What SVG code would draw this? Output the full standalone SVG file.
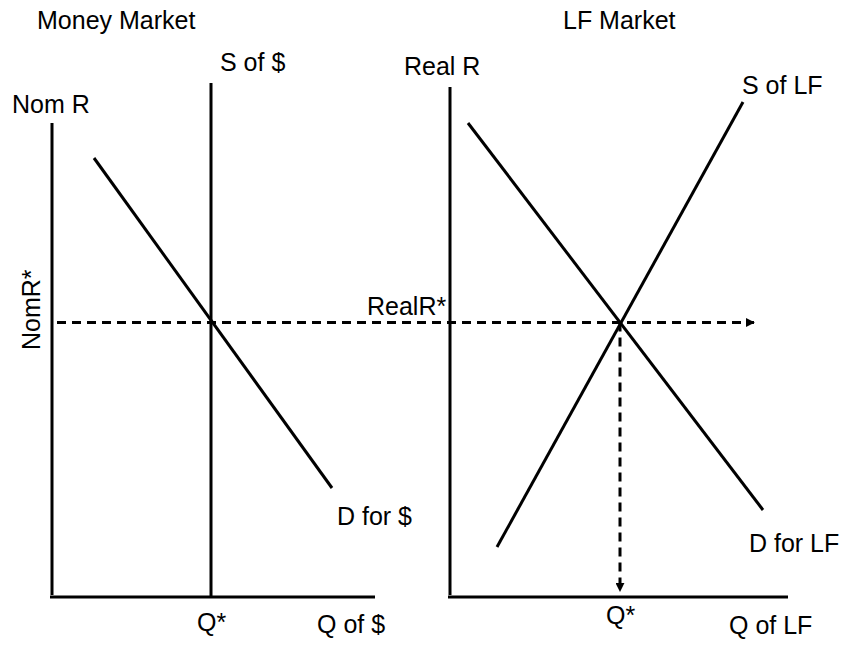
<svg xmlns="http://www.w3.org/2000/svg" width="846" height="648" viewBox="0 0 846 648">
  <style>
    .ln { stroke: #000; stroke-width: 3; fill: none; }
    .dash { stroke: #000; stroke-width: 3; fill: none; stroke-dasharray: 9 6; }
    text { font-family: "Liberation Sans", Arial, sans-serif; font-size: 25px; fill: #000; }
  </style>
  <defs>
    <marker id="arr" viewBox="0 0 10 10" refX="9" refY="5" markerWidth="3" markerHeight="3" orient="auto" markerUnits="strokeWidth">
      <path d="M0,0 L10,5 L0,10 Z" fill="#000"/>
    </marker>
  </defs>
  <rect width="846" height="648" fill="#fff"/>

  <g id="money-market">
    <text x="37" y="29">Money Market</text>
    <line class="ln" x1="52" y1="123" x2="52" y2="595"/>
    <line class="ln" x1="50" y1="597" x2="375" y2="597"/>
    <text x="12" y="113">Nom R</text>
    <text transform="translate(40,350) rotate(-90)">NomR*</text>
    <text x="197" y="631">Q*</text>
    <text x="317" y="633">Q of $</text>
  </g>

  <g id="supply-money">
    <line class="ln" x1="211" y1="83" x2="211" y2="597"/>
    <text x="220" y="71">S of $</text>
  </g>

  <g id="demand-money">
    <line class="ln" x1="94" y1="158" x2="332" y2="488"/>
    <text x="337" y="525">D for $</text>
  </g>

  <g id="lf-market">
    <text x="563" y="29">LF Market</text>
    <line class="ln" x1="450" y1="87" x2="450" y2="595"/>
    <line class="ln" x1="448" y1="597" x2="788" y2="597"/>
    <text x="404" y="75">Real R</text>
    <text x="606" y="624">Q*</text>
    <text x="729" y="634">Q of LF</text>
  </g>

  <g id="supply-lf">
    <line class="ln" x1="497" y1="547" x2="743" y2="102"/>
    <text x="742" y="94">S of LF</text>
  </g>

  <g id="demand-lf">
    <line class="ln" x1="468" y1="123" x2="763" y2="510"/>
    <text x="749" y="552">D for LF</text>
  </g>

  <g id="connectors">
    <line class="dash" x1="57" y1="322.5" x2="754" y2="322.5" marker-end="url(#arr)"/>
    <line class="dash" x1="620" y1="322.5" x2="620" y2="591" marker-end="url(#arr)"/>
    <text x="367" y="315">RealR*</text>
  </g>
</svg>
